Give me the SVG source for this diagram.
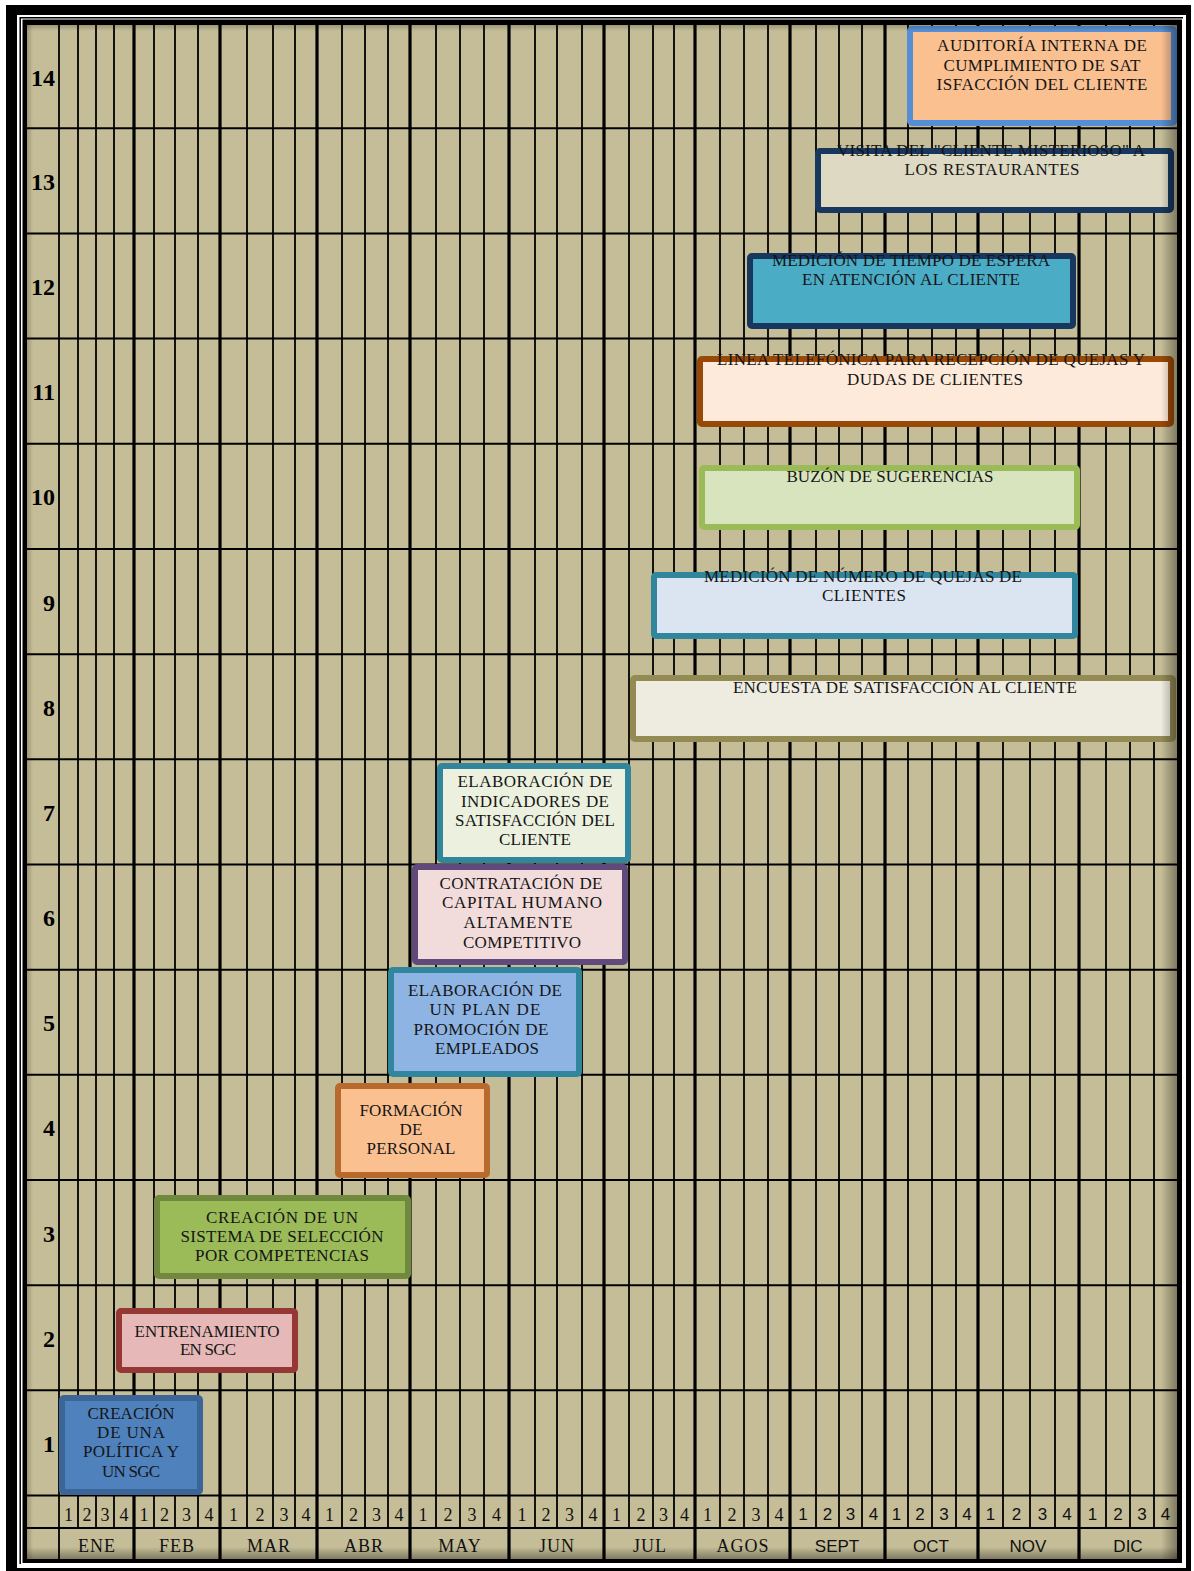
<svg xmlns="http://www.w3.org/2000/svg" width="1194" height="1571" viewBox="0 0 1194 1571">
<style>
.thin{stroke:#000;stroke-width:1.8}
.thick{stroke:#000;stroke-width:3.2}
.hl{stroke:#000;stroke-width:2}
.lbl{font-family:"Liberation Serif",serif;font-weight:bold;font-size:24px;text-anchor:end;fill:#000}
.wk{font-family:"Liberation Serif",serif;font-size:18px;text-anchor:middle;fill:#111}
.mo{font-family:"Liberation Serif",serif;font-size:18px;text-anchor:middle;fill:#111;letter-spacing:1px}
.wks{font-family:"Liberation Sans",sans-serif;font-size:17px;text-anchor:middle;fill:#111}
.mos{font-family:"Liberation Sans",sans-serif;font-size:17px;text-anchor:middle;fill:#111}
.node rect{stroke-width:6}
.node text{font-family:"Liberation Serif",serif;font-size:17px;text-anchor:middle;fill:#151515}
</style>
<defs>
<linearGradient id="shR" x1="0" y1="0" x2="1" y2="0"><stop offset="0" stop-color="#000" stop-opacity="0"/><stop offset="1" stop-color="#000" stop-opacity="0.35"/></linearGradient>
<linearGradient id="shB" x1="0" y1="0" x2="0" y2="1"><stop offset="0" stop-color="#000" stop-opacity="0"/><stop offset="1" stop-color="#000" stop-opacity="0.35"/></linearGradient>
<linearGradient id="shT" x1="0" y1="1" x2="0" y2="0"><stop offset="0" stop-color="#000" stop-opacity="0"/><stop offset="1" stop-color="#000" stop-opacity="0.2"/></linearGradient>
<linearGradient id="shL" x1="1" y1="0" x2="0" y2="0"><stop offset="0" stop-color="#000" stop-opacity="0"/><stop offset="1" stop-color="#000" stop-opacity="0.2"/></linearGradient>
</defs>

<g id="frame">
<rect x="0" y="0" width="1194" height="1571" fill="#fff"/>
<rect x="6" y="5" width="1185" height="1566" fill="#000"/>
<rect x="17" y="15" width="1169" height="1553" fill="#fff"/>
<path d="M20.2 1564 V17.8 H1183" fill="none" stroke="#000" stroke-width="1.5"/>
<rect x="22.5" y="19.5" width="1159.5" height="1543.5" fill="#000"/>
<rect x="27" y="25" width="1150" height="1534" fill="#c4bd97"/>
</g>

<g id="grid">
<g class="hl">
<line x1="27" y1="128.3" x2="1177" y2="128.3"/>
<line x1="27" y1="233.5" x2="1177" y2="233.5"/>
<line x1="27" y1="338.6" x2="1177" y2="338.6"/>
<line x1="27" y1="443.8" x2="1177" y2="443.8"/>
<line x1="27" y1="549" x2="1177" y2="549"/>
<line x1="27" y1="654.2" x2="1177" y2="654.2"/>
<line x1="27" y1="759.3" x2="1177" y2="759.3"/>
<line x1="27" y1="864.5" x2="1177" y2="864.5"/>
<line x1="27" y1="969.7" x2="1177" y2="969.7"/>
<line x1="27" y1="1074.8" x2="1177" y2="1074.8"/>
<line x1="27" y1="1180" x2="1177" y2="1180"/>
<line x1="27" y1="1285.2" x2="1177" y2="1285.2"/>
<line x1="27" y1="1390.3" x2="1177" y2="1390.3"/>
<line x1="27" y1="1495.5" x2="1177" y2="1495.5"/>
<line x1="27" y1="1528" x2="1177" y2="1528"/>
</g>
<g class="thin">
<line x1="59" y1="25" x2="59" y2="1559"/>
<line x1="78" y1="25" x2="78" y2="1528"/>
<line x1="96" y1="25" x2="96" y2="1528"/>
<line x1="114" y1="25" x2="114" y2="1528"/>
<line x1="154" y1="25" x2="154" y2="1528"/>
<line x1="175" y1="25" x2="175" y2="1528"/>
<line x1="198" y1="25" x2="198" y2="1528"/>
<line x1="247" y1="25" x2="247" y2="1528"/>
<line x1="273" y1="25" x2="273" y2="1528"/>
<line x1="295" y1="25" x2="295" y2="1528"/>
<line x1="342" y1="25" x2="342" y2="1528"/>
<line x1="365" y1="25" x2="365" y2="1528"/>
<line x1="388" y1="25" x2="388" y2="1528"/>
<line x1="436" y1="25" x2="436" y2="1528"/>
<line x1="460" y1="25" x2="460" y2="1528"/>
<line x1="484" y1="25" x2="484" y2="1528"/>
<line x1="535" y1="25" x2="535" y2="1528"/>
<line x1="557" y1="25" x2="557" y2="1528"/>
<line x1="582" y1="25" x2="582" y2="1528"/>
<line x1="629" y1="25" x2="629" y2="1528"/>
<line x1="653" y1="25" x2="653" y2="1528"/>
<line x1="674" y1="25" x2="674" y2="1528"/>
<line x1="720" y1="25" x2="720" y2="1528"/>
<line x1="744" y1="25" x2="744" y2="1528"/>
<line x1="768" y1="25" x2="768" y2="1528"/>
<line x1="816" y1="25" x2="816" y2="1528"/>
<line x1="839" y1="25" x2="839" y2="1528"/>
<line x1="862" y1="25" x2="862" y2="1528"/>
<line x1="908" y1="25" x2="908" y2="1528"/>
<line x1="932" y1="25" x2="932" y2="1528"/>
<line x1="956" y1="25" x2="956" y2="1528"/>
<line x1="1003" y1="25" x2="1003" y2="1528"/>
<line x1="1030" y1="25" x2="1030" y2="1528"/>
<line x1="1055" y1="25" x2="1055" y2="1528"/>
<line x1="1106" y1="25" x2="1106" y2="1528"/>
<line x1="1130" y1="25" x2="1130" y2="1528"/>
<line x1="1154" y1="25" x2="1154" y2="1528"/>
</g>
<g class="thick">
<line x1="134" y1="25" x2="134" y2="1559"/>
<line x1="220" y1="25" x2="220" y2="1559"/>
<line x1="317" y1="25" x2="317" y2="1559"/>
<line x1="410" y1="25" x2="410" y2="1559"/>
<line x1="509" y1="25" x2="509" y2="1559"/>
<line x1="604" y1="25" x2="604" y2="1559"/>
<line x1="695" y1="25" x2="695" y2="1559"/>
<line x1="790" y1="25" x2="790" y2="1559"/>
<line x1="885" y1="25" x2="885" y2="1559"/>
<line x1="978" y1="25" x2="978" y2="1559"/>
<line x1="1079" y1="25" x2="1079" y2="1559"/>
</g>
</g>

<g id="row-labels" class="lbl">
<text x="55" y="85.5">14</text>
<text x="55" y="190">13</text>
<text x="55" y="295">12</text>
<text x="55" y="400">11</text>
<text x="55" y="505">10</text>
<text x="55" y="610.5">9</text>
<text x="55" y="715.7">8</text>
<text x="55" y="821">7</text>
<text x="55" y="926">6</text>
<text x="55" y="1031">5</text>
<text x="55" y="1136.4">4</text>
<text x="55" y="1241.6">3</text>
<text x="55" y="1346.8">2</text>
<text x="55" y="1452">1</text>
</g>

<g id="weeks">
<g class="wk">
<text x="68.5" y="1521">1</text><text x="87" y="1521">2</text><text x="105" y="1521">3</text><text x="124" y="1521">4</text>
<text x="144" y="1521">1</text><text x="164.5" y="1521">2</text><text x="186.5" y="1521">3</text><text x="209" y="1521">4</text>
<text x="233.5" y="1521">1</text><text x="260" y="1521">2</text><text x="284" y="1521">3</text><text x="306" y="1521">4</text>
<text x="329.5" y="1521">1</text><text x="353.5" y="1521">2</text><text x="376.5" y="1521">3</text><text x="399" y="1521">4</text>
<text x="423" y="1521">1</text><text x="448" y="1521">2</text><text x="472" y="1521">3</text><text x="496.5" y="1521">4</text>
<text x="522" y="1521">1</text><text x="546" y="1521">2</text><text x="569.5" y="1521">3</text><text x="593" y="1521">4</text>
<text x="616.5" y="1521">1</text><text x="641" y="1521">2</text><text x="663.5" y="1521">3</text><text x="684.5" y="1521">4</text>
<text x="707.5" y="1521">1</text><text x="732" y="1521">2</text><text x="756" y="1521">3</text><text x="779" y="1521">4</text>
</g>
<g class="wks">
<text x="803" y="1520">1</text><text x="827.5" y="1520">2</text><text x="850.5" y="1520">3</text><text x="873.5" y="1520">4</text>
<text x="896.5" y="1520">1</text><text x="920" y="1520">2</text><text x="944" y="1520">3</text><text x="967" y="1520">4</text>
<text x="990.5" y="1520">1</text><text x="1016.5" y="1520">2</text><text x="1042.5" y="1520">3</text><text x="1067" y="1520">4</text>
<text x="1092.5" y="1520">1</text><text x="1118" y="1520">2</text><text x="1142" y="1520">3</text><text x="1165.5" y="1520">4</text>
</g>
</g>

<g id="months">
<g class="mo">
<text x="97" y="1552">ENE</text>
<text x="177" y="1552">FEB</text>
<text x="269" y="1552">MAR</text>
<text x="364" y="1552">ABR</text>
<text x="460" y="1552">MAY</text>
<text x="557" y="1552">JUN</text>
<text x="650" y="1552">JUL</text>
<text x="743" y="1552">AGOS</text>
</g>
<g class="mos">
<text x="837" y="1551.5">SEPT</text>
<text x="931" y="1551.5">OCT</text>
<text x="1028" y="1551.5">NOV</text>
<text x="1128" y="1551.5">DIC</text>
</g>
</g>

<g id="node1" class="node">
<rect x="62" y="1398" width="138" height="94" rx="2" fill="#4f81bd" stroke="#3b6596"/>
<text x="131" y="1419" textLength="87">CREACIÓN</text>
<text x="131" y="1438" textLength="68">DE UNA</text>
<text x="131" y="1457" textLength="96">POLÍTICA Y</text>
<text x="131" y="1477" textLength="58">UN SGC</text>
</g>
<g id="node2" class="node">
<rect x="119" y="1311" width="176" height="59" rx="2" fill="#e6b9b8" stroke="#953735"/>
<text x="207" y="1337" textLength="145">ENTRENAMIENTO</text>
<text x="208" y="1355" textLength="56">EN SGC</text>
</g>
<g id="node3" class="node">
<rect x="157" y="1198" width="251" height="78" rx="2" fill="#9bbb59" stroke="#71893f"/>
<text x="282" y="1223" textLength="152">CREACIÓN DE UN</text>
<text x="282" y="1242" textLength="203">SISTEMA DE SELECCIÓN</text>
<text x="282" y="1261" textLength="174">POR COMPETENCIAS</text>
</g>
<g id="node4" class="node">
<rect x="338" y="1086" width="149" height="89" rx="2" fill="#fac090" stroke="#b8692d"/>
<text x="411" y="1116" textLength="103">FORMACIÓN</text>
<text x="411" y="1135" textLength="23">DE</text>
<text x="411" y="1154" textLength="89">PERSONAL</text>
</g>
<g id="node5" class="node">
<rect x="391" y="970" width="188" height="104" rx="2" fill="#8eb4e3" stroke="#31859c"/>
<text x="485" y="996" textLength="154">ELABORACIÓN DE</text>
<text x="485" y="1015" textLength="111">UN PLAN DE</text>
<text x="481" y="1035" textLength="135">PROMOCIÓN DE</text>
<text x="487" y="1054" textLength="104">EMPLEADOS</text>
</g>
<g id="node6" class="node">
<rect x="415" y="867" width="210" height="95" rx="2" fill="#f2dcdb" stroke="#604a7b"/>
<text x="521" y="889" textLength="163">CONTRATACIÓN DE</text>
<text x="522" y="908" textLength="160">CAPITAL HUMANO</text>
<text x="518" y="928" textLength="109">ALTAMENTE</text>
<text x="522" y="948" textLength="118">COMPETITIVO</text>
</g>
<g id="node7" class="node">
<rect x="440" y="766" width="188" height="94" rx="2" fill="#ebf1de" stroke="#31859c"/>
<text x="535" y="787" textLength="155">ELABORACIÓN DE</text>
<text x="535" y="807" textLength="148">INDICADORES DE</text>
<text x="535" y="826" textLength="160">SATISFACCIÓN DEL</text>
<text x="535" y="845" textLength="72">CLIENTE</text>
</g>
<g id="node8" class="node">
<rect x="633" y="678" width="540" height="61" rx="2" fill="#eeece1" stroke="#948a54"/>
<text x="905" y="693" textLength="344">ENCUESTA DE SATISFACCIÓN AL CLIENTE</text>
</g>
<g id="node9" class="node">
<rect x="654" y="575" width="421" height="61" rx="2" fill="#dbe5f1" stroke="#31859c"/>
<text x="863" y="582" textLength="318">MEDICIÓN DE NÚMERO DE QUEJAS DE</text>
<text x="864" y="601" textLength="84">CLIENTES</text>
</g>
<g id="node10" class="node">
<rect x="702" y="468" width="375" height="59" rx="2" fill="#d7e4bd" stroke="#9bbb59"/>
<text x="890" y="482" textLength="207">BUZÓN DE SUGERENCIAS</text>
</g>
<g id="node11" class="node">
<rect x="700" y="359" width="471" height="65" rx="2" fill="#fdeada" stroke="#984807"/>
<text x="931" y="365" textLength="428">LINEA TELEFÓNICA PARA RECEPCIÓN DE QUEJAS Y</text>
<text x="935" y="385" textLength="176">DUDAS DE CLIENTES</text>
</g>
<g id="node12" class="node">
<rect x="750" y="256" width="323" height="70" rx="2" fill="#4bacc6" stroke="#17375e"/>
<text x="911" y="266" textLength="278">MEDICIÓN DE TIEMPO DE ESPERA</text>
<text x="911" y="285" textLength="218">EN ATENCIÓN AL CLIENTE</text>
</g>
<g id="node13" class="node">
<rect x="818" y="151" width="353" height="59" rx="2" fill="#ddd9c3" stroke="#17375e"/>
<text x="991" y="156" textLength="308">VISITA DEL "CLIENTE MISTERIOSO" A</text>
<text x="992" y="175" textLength="175">LOS RESTAURANTES</text>
</g>
<g id="node14" class="node">
<rect x="910" y="29" width="264" height="94" rx="2" fill="#fac090" stroke="#558ed5"/>
<text x="1042" y="51" textLength="210">AUDITORÍA INTERNA DE</text>
<text x="1042" y="71" textLength="197">CUMPLIMIENTO DE SAT</text>
<text x="1042" y="90" textLength="211">ISFACCIÓN DEL CLIENTE</text>
</g>

<g id="shadow">
<rect x="1161" y="25" width="16" height="1534" fill="url(#shR)"/>
<rect x="27" y="1547" width="1150" height="12" fill="url(#shB)"/>
<rect x="27" y="25" width="1150" height="6" fill="url(#shT)"/>
<rect x="27" y="25" width="6" height="1534" fill="url(#shL)"/>
</g>
</svg>
